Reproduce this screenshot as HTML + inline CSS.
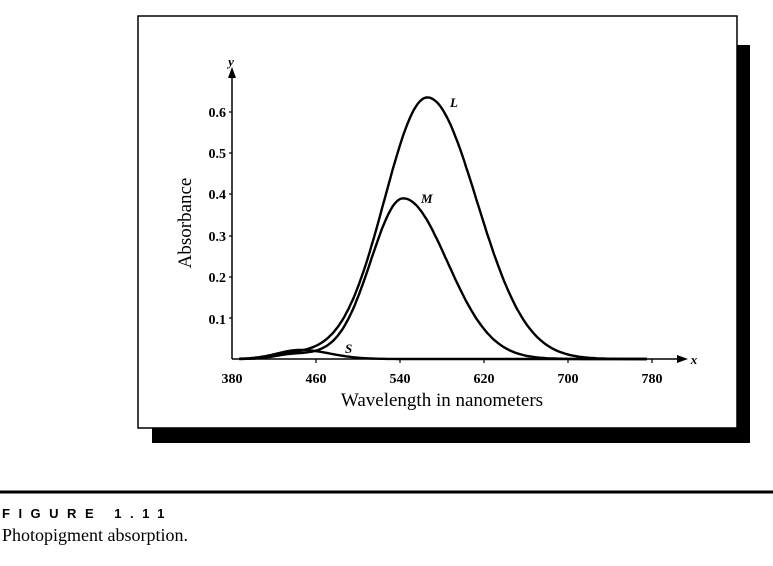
<!DOCTYPE html>
<html><head><meta charset="utf-8"><style>
body{margin:0;background:#fff;width:773px;height:561px;overflow:hidden;font-family:"Liberation Serif",serif;}
</style></head><body>
<svg width="773" height="561" viewBox="0 0 773 561" xmlns="http://www.w3.org/2000/svg" font-family="Liberation Serif, serif">
<rect x="152" y="45" width="598" height="398" fill="#000"/>
<rect x="138" y="16" width="599" height="412" fill="#fff" stroke="#000" stroke-width="1.5"/>
<line x1="232" y1="359" x2="680" y2="359" stroke="#000" stroke-width="1.5"/>
<polygon points="688,359 677,355 677,363" fill="#000"/>
<line x1="232" y1="359" x2="232" y2="75" stroke="#000" stroke-width="1.5"/>
<polygon points="232,67 228,78 236,78" fill="#000"/>
<text x="231" y="66" font-size="13" font-style="italic" font-weight="bold" text-anchor="middle">y</text>
<text x="694" y="364" font-size="13" font-style="italic" font-weight="bold" text-anchor="middle">x</text>
<g font-size="14" font-weight="bold" text-anchor="end">
<text x="226" y="117">0.6</text><text x="226" y="158">0.5</text><text x="226" y="199">0.4</text>
<text x="226" y="241">0.3</text><text x="226" y="282">0.2</text><text x="226" y="324">0.1</text>
</g>
<g stroke="#000" stroke-width="1.2">
<line x1="229" y1="112" x2="232" y2="112"/><line x1="229" y1="153" x2="232" y2="153"/><line x1="229" y1="194" x2="232" y2="194"/>
<line x1="229" y1="236" x2="232" y2="236"/><line x1="229" y1="277" x2="232" y2="277"/><line x1="229" y1="318" x2="232" y2="318"/>
<line x1="316" y1="359" x2="316" y2="363"/><line x1="400" y1="359" x2="400" y2="363"/><line x1="484" y1="359" x2="484" y2="363"/><line x1="568" y1="359" x2="568" y2="363"/><line x1="652" y1="359" x2="652" y2="363"/>
</g>
<g font-size="14" font-weight="bold" text-anchor="middle">
<text x="232" y="383">380</text><text x="316" y="383">460</text><text x="400" y="383">540</text>
<text x="484" y="383">620</text><text x="568" y="383">700</text><text x="652" y="383">780</text>
</g>
<text x="442" y="406" font-size="19" text-anchor="middle">Wavelength in nanometers</text>
<text transform="translate(191,223) rotate(-90)" font-size="19" text-anchor="middle">Absorbance</text>
<g id="curves" fill="none" stroke="#000" stroke-width="2.4"></g>
<text x="450" y="107" font-size="13" font-style="italic" font-weight="bold">L</text>
<text x="421" y="203" font-size="13" font-style="italic" font-weight="bold">M</text>
<text x="345" y="353" font-size="13" font-style="italic" font-weight="bold">S</text>
<line x1="0" y1="492" x2="773" y2="492" stroke="#000" stroke-width="3"/>
<text x="2" y="518" font-family="Liberation Sans, sans-serif" font-size="13" font-weight="bold" letter-spacing="8.5">FIGURE 1.11</text>
<text x="2" y="541" font-size="18">Photopigment absorption.</text>
</svg>
<script>
function X(n){return 232+(n-380)*1.05;}
function Y(v){return 359-v*412;}
function g(n,p,a,sl,sr){var s=n<p?sl:sr;return a*Math.exp(-0.5*Math.pow((n-p)/s,2));}
function path(f){var d="";for(var n=387;n<=775;n+=2){d+=(n==387?"M":"L")+X(n).toFixed(1)+","+Y(f(n)).toFixed(1);}return d;}
var c=document.getElementById("curves");
[function(n){return g(n,566,0.635,41,47)+g(n,440,0.012,18,30);},
 function(n){return g(n,543,0.39,31,42)+g(n,440,0.012,18,30);},
 function(n){return g(n,445,0.022,22,28);}].forEach(function(f){
 var p=document.createElementNS("http://www.w3.org/2000/svg","path");p.setAttribute("d",path(f));c.appendChild(p);});
</script>
</body></html>
